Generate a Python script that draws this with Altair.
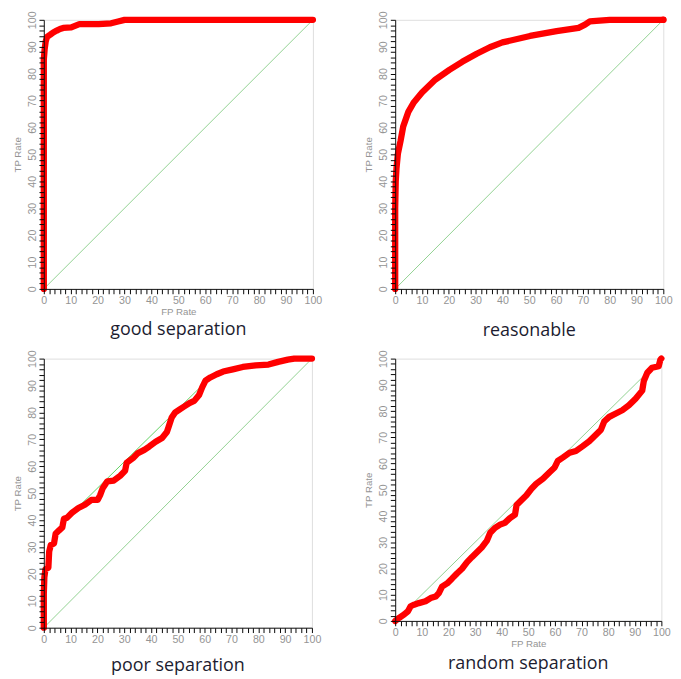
import altair as alt
import pandas as pd

# ---------------- data ----------------
diag_fp = [0, 100]
diag_tp = [0, 100]

good_fp = [0, 0, 0.3, 0.7, 1.2, 2.4, 3.5, 4.8, 6, 7.2, 10.2, 13.2, 16, 20.4, 25, 27.6, 30, 60, 100]
good_tp = [0, 85.3, 89, 92, 93.7, 94.5, 95.3, 96, 96.6, 97, 97.2, 98.4, 98.4, 98.4, 98.7, 99.4, 100, 100, 100]

reas_fp = [0, 0, 0.2, 0.5, 1, 2, 3, 4.9, 7, 10, 15, 20.2, 25, 30.4, 35.3, 40, 50.3, 60.2, 68.4,
           70.8, 72.6, 75, 80, 90, 100]
reas_tp = [0, 30, 40, 45, 50.2, 55, 60.4, 65.8, 69.4, 73, 77.8, 81.4, 84.4, 87.4, 89.8, 91.6, 94,
           95.8, 97, 98.2, 99.4, 99.6, 100, 100, 100]

poor_fp = [0, 0, 0.2, 0.6, 1.7, 2, 2.6, 3.8, 4.4, 5.6, 6.9, 7.5, 8.7, 10.5, 12.9, 15.3, 17.7,
           20.1, 21, 21.9, 23.7, 26.1, 28.5, 30.3, 30.9, 33.3, 35.1, 37.5, 39.3, 41.7, 44.1,
           45.9, 46.5, 47.7, 48.9, 50.7, 52.5, 54.3, 56.1, 57.9, 59.1, 60.3, 62.1, 64.5, 66.9,
           70.5, 74.2, 79, 83.8, 87.4, 91, 93.4, 100]
poor_tp = [0, 12.7, 18.7, 21.7, 22.3, 28.3, 30.7, 31.3, 34.9, 36.1, 37.3, 40.5, 40.9, 42.7, 44.5,
           45.7, 47.5, 47.5, 49.3, 51.7, 54.4, 54.7, 56.5, 58.3, 61.3, 63.1, 64.9, 66.1, 67.3,
           69.1, 70.5, 72.7, 74.5, 78.1, 79.9, 81.1, 82.3, 83.5, 84.3, 86.5, 89.4, 91.8, 93,
           94.2, 95.2, 96, 96.9, 97.5, 97.8, 98.8, 99.6, 100, 100]
poor_hull_fp = [13.5, 59]
poor_hull_tp = [45.5, 90]

rand_fp = [0, 1.5, 3.4, 4.8, 5.8, 7.1, 8.9, 11.4, 13.3, 15.2, 16.4, 17.6, 19.5, 21.4, 23.2, 25.1,
           27, 28.8, 30.7, 32.5, 34.4, 35.7, 37.5, 39.4, 41.2, 43.1, 45, 45.6, 47.5, 49.3, 51.2,
           53, 55.5, 58, 59.9, 61.1, 63, 65.5, 67.9, 70.4, 72.9, 75.4, 77.3, 78.5, 80.4, 82.9,
           85.3, 87.8, 90.3, 92.8, 93.4, 94.7, 96.5, 99, 99.6, 100]
rand_tp = [0, 1.2, 2.5, 3.7, 5.6, 6.2, 6.8, 7.5, 8.7, 9.3, 10.6, 13.1, 14.3, 16.2, 18.1, 19.9,
           22.4, 24.3, 26.2, 28, 30.5, 33.6, 35.5, 36.7, 37.4, 39.2, 40.5, 44.2, 46.1, 47.9, 50.4,
           52.3, 54.2, 56.7, 58.5, 61, 62.3, 64.1, 64.8, 66.6, 68.5, 71, 72.9, 76, 77.8, 79.1,
           80.3, 82.2, 84.7, 87.8, 91.5, 94.6, 96.5, 97.1, 99.6, 100]

titles = ["good separation", "reasonable", "poor separation", "random separation"]
tick_values = list(range(0, 101, 2))

LABEL_EXPR = "datum.value % 10 === 0 ? datum.label : ''"
GRAY = "#949494"
LFONT = "Liberation Sans"


def panel(fp, tp, title, w, h, title_offset, xtitle=None, hull=None, end_dot=False):
    scale = alt.Scale(domain=[0, 100], nice=False, zero=False)
    common = dict(values=tick_values, labelExpr=LABEL_EXPR, tickSize=5, tickWidth=1,
                  tickColor="#000000", tickOpacity=1, domainColor="#111", ticks=True,
                  zindex=1, grid=False, labelOverlap=False, labelFlush=False,
                  labelColor=GRAY, labelFontSize=11, labelFont=LFONT,
                  titleColor=GRAY, titleFontSize=10, titleFont=LFONT,
                  titleFontWeight="normal")
    x_axis = alt.Axis(labelPadding=1, title=xtitle if xtitle else None, titlePadding=1,
                      **common)
    y_axis = alt.Axis(labelPadding=2, labelAngle=270, labelAlign="center",
                      labelBaseline="bottom", title="TP Rate", titlePadding=4, **common)
    xe = alt.X("fp:Q", scale=scale, axis=x_axis)
    ye = alt.Y("tp:Q", scale=scale, axis=y_axis)

    layers = [alt.Chart(pd.DataFrame({"fp": diag_fp, "tp": diag_tp})).mark_line(
        color="#8fd08f", strokeWidth=1).encode(x=xe, y=ye)]
    if hull is not None:
        layers.append(alt.Chart(pd.DataFrame({"fp": hull[0], "tp": hull[1]})).mark_line(
            color="#5fd05f", strokeWidth=1).encode(x=xe, y=ye))
    df = pd.DataFrame({"fp": fp, "tp": tp, "order": list(range(len(fp)))})
    layers.append(alt.Chart(df).mark_line(color="#ff0000", strokeWidth=6.5, strokeCap="round",
                                          strokeJoin="round").encode(
        x=xe, y=ye, order="order:Q"))
    if end_dot:
        layers.append(alt.Chart(pd.DataFrame({"fp": [fp[-1]], "tp": [tp[-1]]})).mark_circle(
            color="#ff0000", size=45, opacity=1).encode(x=xe, y=ye))
    return alt.layer(*layers).properties(
        width=w, height=h,
        title=alt.TitleParams(title, orient="bottom", fontSize=18.5, font="Open Sans",
                              fontWeight="normal", color="#1c1c30", offset=title_offset))


p1 = panel(good_fp, good_tp, titles[0], 278, 278, 5, xtitle="FP Rate")
p2 = panel(reas_fp, reas_tp, titles[1], 277, 278, 17, end_dot=True)
p3 = panel(poor_fp, poor_tp, titles[2], 277, 278, 13, hull=(poor_hull_fp, poor_hull_tp))
p4 = panel(rand_fp, rand_tp, titles[3], 275, 271, 7, xtitle="FP Rate")

chart = alt.concat(p1, p2, p3, p4, columns=2, spacing={"row": 72, "column": 85},
                   bounds="flush").properties(
    padding={"left": 4, "top": -9, "right": 0, "bottom": 0}
).configure_view(stroke="#222", strokeWidth=1).configure(background="white")

chart.save("out.html", embed_options={"renderer": "svg", "actions": False})
